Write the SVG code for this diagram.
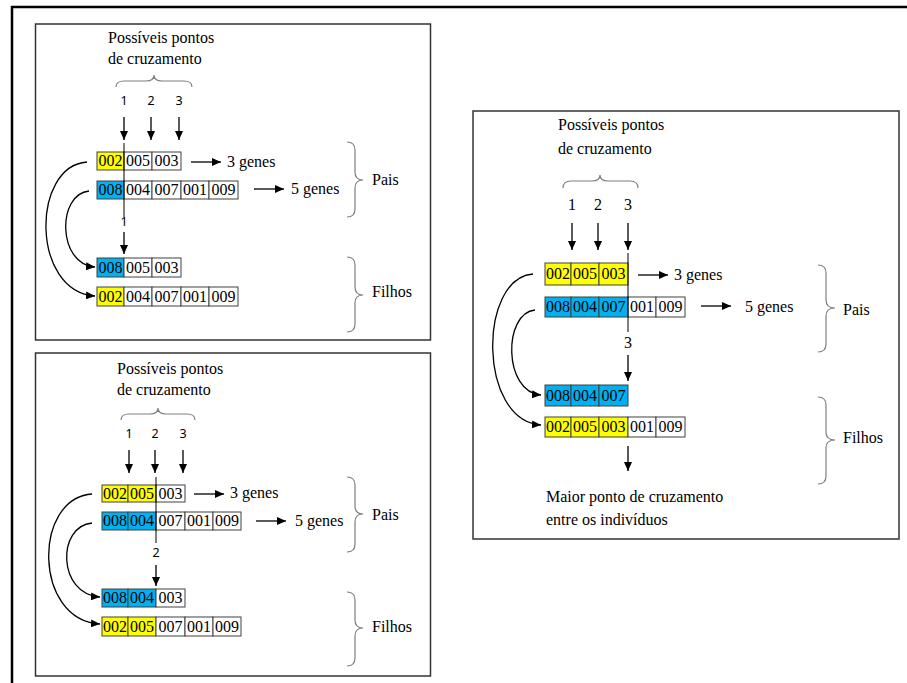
<svg xmlns="http://www.w3.org/2000/svg" width="907" height="683" viewBox="0 0 907 683">
  <style>
    .frame { fill: none; stroke: #000; stroke-width: 2.5; }
    .panel { fill: #fff; stroke: #333; stroke-width: 1.5; }
    .t { font-family: "Liberation Serif", "Times New Roman", serif; font-size: 16px; fill: #000; }
    .n { font-family: "Noto Sans", "Liberation Sans", sans-serif; font-size: 12.5px; fill: #000; text-anchor: middle; }
    .ns { font-family: "Liberation Serif", "Times New Roman", serif; font-size: 16px; fill: #000; text-anchor: middle; }
    .c { stroke: #404040; stroke-width: 1; }
    .y { fill: #ffff00; }
    .b { fill: #00b0f0; }
    .w { fill: #fff; }
    .g { font-family: "Liberation Serif", "Times New Roman", serif; font-size: 16px; fill: #000; text-anchor: middle; }
    .arr { fill: none; stroke: #000; stroke-width: 1.3; marker-end: url(#head); }
    .cut { fill: none; stroke: #000; stroke-width: 1; }
    .brace { fill: none; stroke: #7f7f7f; stroke-width: 1.2; }
  </style>
  <defs>
    <marker id="head" markerUnits="userSpaceOnUse" markerWidth="9" markerHeight="8" refX="9" refY="4" orient="auto">
      <path d="M0,0 L9,4 L0,8 z" fill="#000"/>
    </marker>
  </defs>

  <!-- outer frame -->
  <path class="frame" d="M12,683 L12,7 L907,7"/>

  <!-- ===== Panel 1: crossover at point 1 ===== -->
  <g id="panel1">
    <rect class="panel" x="35.5" y="24" width="395" height="316"/>
    <text class="t" x="108" y="43">Possíveis pontos</text>
    <text class="t" x="108" y="64">de cruzamento</text>
    <path class="brace" d="M116,87 Q116,81 124,81 L146,81 Q154,81 154,75 Q154,81 162,81 L184,81 Q192,81 192,87"/>
    <text class="n" x="124" y="105">1</text>
    <text class="n" x="151" y="105">2</text>
    <text class="n" x="179" y="105">3</text>

    <g id="p1-parent1">
      <rect class="c y" x="97" y="152" width="27" height="18"/>
      <rect class="c w" x="124" y="152" width="28" height="18"/>
      <rect class="c w" x="152" y="152" width="29" height="18"/>
      <text class="g" x="110.5" y="166">002</text>
      <text class="g" x="138" y="166">005</text>
      <text class="g" x="166.5" y="166">003</text>
    </g>
    <g id="p1-parent2">
      <rect class="c b" x="97" y="181" width="27" height="18"/>
      <rect class="c w" x="124" y="181" width="28" height="18"/>
      <rect class="c w" x="152" y="181" width="29" height="18"/>
      <rect class="c w" x="181" y="181" width="28" height="18"/>
      <rect class="c w" x="209" y="181" width="29" height="18"/>
      <text class="g" x="110.5" y="195">008</text>
      <text class="g" x="138" y="195">004</text>
      <text class="g" x="166.5" y="195">007</text>
      <text class="g" x="195" y="195">001</text>
      <text class="g" x="223.5" y="195">009</text>
    </g>
    <g id="p1-child1">
      <rect class="c b" x="97" y="258" width="27" height="19"/>
      <rect class="c w" x="124" y="258" width="28" height="19"/>
      <rect class="c w" x="152" y="258" width="29" height="19"/>
      <text class="g" x="110.5" y="273">008</text>
      <text class="g" x="138" y="273">005</text>
      <text class="g" x="166.5" y="273">003</text>
    </g>
    <g id="p1-child2">
      <rect class="c y" x="97" y="287" width="27" height="19"/>
      <rect class="c w" x="124" y="287" width="28" height="19"/>
      <rect class="c w" x="152" y="287" width="29" height="19"/>
      <rect class="c w" x="181" y="287" width="28" height="19"/>
      <rect class="c w" x="209" y="287" width="29" height="19"/>
      <text class="g" x="110.5" y="302">002</text>
      <text class="g" x="138" y="302">004</text>
      <text class="g" x="166.5" y="302">007</text>
      <text class="g" x="195" y="302">001</text>
      <text class="g" x="223.5" y="302">009</text>
    </g>

    <text class="t" x="227" y="167">3 genes</text>
    <text class="t" x="291" y="194">5 genes</text>
    <path class="brace" d="M347,142 Q355,142 355,150 L355,172 Q355,180 363,180 Q355,180 355,188 L355,209 Q355,217 347,217"/>
    <text class="t" x="372" y="185">Pais</text>
    <path class="brace" d="M347,257 Q355,257 355,265 L355,287 Q355,295 363,295 Q355,295 355,303 L355,324 Q355,332 347,332"/>
    <text class="t" x="372" y="297">Filhos</text>
    <text class="n" x="124" y="226">1</text>

    <g id="p1-connectors">
      <line class="arr" x1="124" y1="117" x2="124" y2="140"/>
      <line class="arr" x1="151" y1="117" x2="151" y2="140"/>
      <line class="arr" x1="179" y1="117" x2="179" y2="140"/>
      <line class="cut" x1="124" y1="143" x2="124" y2="217"/>
      <line class="arr" x1="124" y1="232" x2="124" y2="254"/>
      <line class="arr" x1="191" y1="162" x2="221" y2="162"/>
      <line class="arr" x1="254" y1="189" x2="284" y2="189"/>
      <path class="arr" d="M87,162 C31,166 31,292 95,296"/>
      <path class="arr" d="M89,191 C57,194 57,264 95,267"/>
    </g>
  </g>

  <!-- ===== Panel 2: crossover at point 2 ===== -->
  <g id="panel2">
    <rect class="panel" x="35.5" y="353" width="395" height="323"/>
    <text class="t" x="117" y="374">Possíveis pontos</text>
    <text class="t" x="117" y="395">de cruzamento</text>
    <path class="brace" d="M121,420 Q121,414 129,414 L150,414 Q158,414 158,408 Q158,414 166,414 L187,414 Q195,414 195,420"/>
    <text class="n" x="129" y="438">1</text>
    <text class="n" x="155" y="438">2</text>
    <text class="n" x="183" y="438">3</text>

    <g id="p2-parent1">
      <rect class="c y" x="102" y="485" width="26" height="17"/>
      <rect class="c y" x="128" y="485" width="28" height="17"/>
      <rect class="c w" x="156" y="485" width="29" height="17"/>
      <text class="g" x="115" y="499">002</text>
      <text class="g" x="142" y="499">005</text>
      <text class="g" x="170.5" y="499">003</text>
    </g>
    <g id="p2-parent2">
      <rect class="c b" x="102" y="512" width="26" height="18"/>
      <rect class="c b" x="128" y="512" width="28" height="18"/>
      <rect class="c w" x="156" y="512" width="29" height="18"/>
      <rect class="c w" x="185" y="512" width="28" height="18"/>
      <rect class="c w" x="213" y="512" width="28" height="18"/>
      <text class="g" x="115" y="526">008</text>
      <text class="g" x="142" y="526">004</text>
      <text class="g" x="170.5" y="526">007</text>
      <text class="g" x="199" y="526">001</text>
      <text class="g" x="227" y="526">009</text>
    </g>
    <g id="p2-child1">
      <rect class="c b" x="102" y="589" width="26" height="18"/>
      <rect class="c b" x="128" y="589" width="28" height="18"/>
      <rect class="c w" x="156" y="589" width="29" height="18"/>
      <text class="g" x="115" y="603">008</text>
      <text class="g" x="142" y="603">004</text>
      <text class="g" x="170.5" y="603">003</text>
    </g>
    <g id="p2-child2">
      <rect class="c y" x="102" y="617" width="26" height="19"/>
      <rect class="c y" x="128" y="617" width="28" height="19"/>
      <rect class="c w" x="156" y="617" width="29" height="19"/>
      <rect class="c w" x="185" y="617" width="28" height="19"/>
      <rect class="c w" x="213" y="617" width="28" height="19"/>
      <text class="g" x="115" y="632">002</text>
      <text class="g" x="142" y="632">005</text>
      <text class="g" x="170.5" y="632">007</text>
      <text class="g" x="199" y="632">001</text>
      <text class="g" x="227" y="632">009</text>
    </g>

    <text class="t" x="230" y="498">3 genes</text>
    <text class="t" x="295" y="526">5 genes</text>
    <path class="brace" d="M347,477 Q355,477 355,485 L355,506 Q355,514 363,514 Q355,514 355,522 L355,544 Q355,552 347,552"/>
    <text class="t" x="372" y="520">Pais</text>
    <path class="brace" d="M347,592 Q355,592 355,600 L355,620 Q355,628 363,628 Q355,628 355,636 L355,658 Q355,666 347,666"/>
    <text class="t" x="372" y="632">Filhos</text>
    <text class="n" x="156" y="557">2</text>

    <g id="p2-connectors">
      <line class="arr" x1="129" y1="450" x2="129" y2="473"/>
      <line class="arr" x1="155" y1="450" x2="155" y2="473"/>
      <line class="arr" x1="183" y1="450" x2="183" y2="473"/>
      <line class="cut" x1="156" y1="477" x2="156" y2="543"/>
      <line class="arr" x1="156" y1="565" x2="156" y2="586"/>
      <line class="arr" x1="194" y1="494" x2="224" y2="494"/>
      <line class="arr" x1="256" y1="521" x2="286" y2="521"/>
      <path class="arr" d="M92,494 C33,498 33,620 100,624"/>
      <path class="arr" d="M92,523 C57,526 57,594 100,597"/>
    </g>
  </g>

  <!-- ===== Panel 3: crossover at point 3 ===== -->
  <g id="panel3">
    <rect class="panel" x="473" y="111" width="426" height="428"/>
    <text class="t" x="558" y="130">Possíveis pontos</text>
    <text class="t" x="558" y="154">de cruzamento</text>
    <path class="brace" d="M563,188 Q563,181 571,181 L592,181 Q600,181 600,175 Q600,181 608,181 L630,181 Q638,181 638,188"/>
    <text class="ns" x="572" y="210">1</text>
    <text class="ns" x="598" y="210">2</text>
    <text class="ns" x="628" y="210">3</text>

    <g id="p3-parent1">
      <rect class="c y" x="545" y="263" width="26" height="22"/>
      <rect class="c y" x="571" y="263" width="28" height="22"/>
      <rect class="c y" x="599" y="263" width="29" height="22"/>
      <text class="g" x="558" y="279">002</text>
      <text class="g" x="585" y="279">005</text>
      <text class="g" x="613.5" y="279">003</text>
    </g>
    <g id="p3-parent2">
      <rect class="c b" x="545" y="297" width="26" height="20"/>
      <rect class="c b" x="571" y="297" width="28" height="20"/>
      <rect class="c b" x="599" y="297" width="29" height="20"/>
      <rect class="c w" x="628" y="297" width="28" height="20"/>
      <rect class="c w" x="656" y="297" width="29" height="20"/>
      <text class="g" x="558" y="312">008</text>
      <text class="g" x="585" y="312">004</text>
      <text class="g" x="613.5" y="312">007</text>
      <text class="g" x="642" y="312">001</text>
      <text class="g" x="670.5" y="312">009</text>
    </g>
    <g id="p3-child1">
      <rect class="c b" x="545" y="385" width="26" height="21"/>
      <rect class="c b" x="571" y="385" width="28" height="21"/>
      <rect class="c b" x="599" y="385" width="29" height="21"/>
      <text class="g" x="558" y="401">008</text>
      <text class="g" x="585" y="401">004</text>
      <text class="g" x="613.5" y="401">007</text>
    </g>
    <g id="p3-child2">
      <rect class="c y" x="545" y="417" width="26" height="20"/>
      <rect class="c y" x="571" y="417" width="28" height="20"/>
      <rect class="c y" x="599" y="417" width="29" height="20"/>
      <rect class="c w" x="628" y="417" width="28" height="20"/>
      <rect class="c w" x="656" y="417" width="29" height="20"/>
      <text class="g" x="558" y="432">002</text>
      <text class="g" x="585" y="432">005</text>
      <text class="g" x="613.5" y="432">003</text>
      <text class="g" x="642" y="432">001</text>
      <text class="g" x="670.5" y="432">009</text>
    </g>

    <text class="t" x="674" y="280">3 genes</text>
    <text class="t" x="745" y="312">5 genes</text>
    <path class="brace" d="M818,265 Q826,265 826,273 L826,300 Q826,308 835,308 Q826,308 826,316 L826,344 Q826,352 818,352"/>
    <text class="t" x="843" y="315">Pais</text>
    <path class="brace" d="M818,397 Q826,397 826,405 L826,432 Q826,440 835,440 Q826,440 826,448 L826,476 Q826,484 818,484"/>
    <text class="t" x="843" y="443">Filhos</text>
    <text class="ns" x="628" y="348">3</text>
    <text class="t" x="546" y="502">Maior ponto de cruzamento</text>
    <text class="t" x="546" y="525">entre os indivíduos</text>

    <g id="p3-connectors">
      <line class="arr" x1="572" y1="223" x2="572" y2="250"/>
      <line class="arr" x1="598" y1="223" x2="598" y2="250"/>
      <line class="arr" x1="628" y1="223" x2="628" y2="250"/>
      <line class="cut" x1="628" y1="253" x2="628" y2="332"/>
      <line class="arr" x1="628" y1="355" x2="628" y2="381"/>
      <line class="arr" x1="628" y1="446" x2="628" y2="471"/>
      <line class="arr" x1="638" y1="275" x2="668" y2="275"/>
      <line class="arr" x1="701" y1="306" x2="731" y2="306"/>
      <path class="arr" d="M533,274 C478,278 478,421 541,425"/>
      <path class="arr" d="M535,310 C503,313 503,392 541,395"/>
    </g>
  </g>
</svg>
